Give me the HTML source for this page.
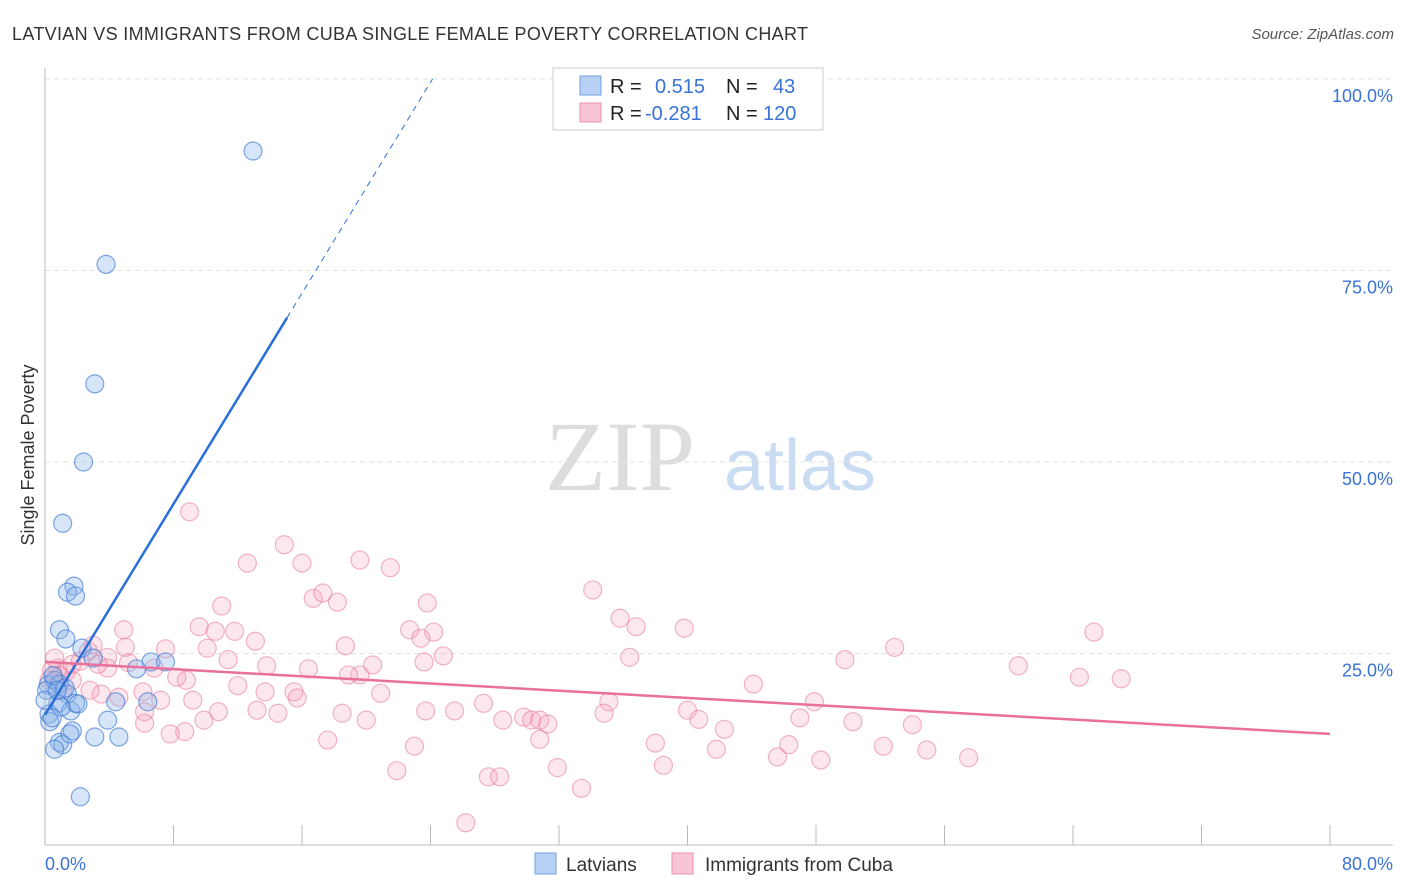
<!DOCTYPE html>
<html><head><meta charset="utf-8"><style>
body{margin:0;background:#fff;font-family:"Liberation Sans",sans-serif;}
svg{display:block}
</style></head><body>
<svg id="chart" width="1406" height="892">
<text x="12" y="40" font-size="18" fill="#333" textLength="796">LATVIAN VS IMMIGRANTS FROM CUBA SINGLE FEMALE POVERTY CORRELATION CHART</text>
<text x="1394" y="39" font-size="15" fill="#555" font-style="italic" text-anchor="end">Source: ZipAtlas.com</text>
<text x="620" y="490" font-size="100" fill="#ddd" font-family="Liberation Serif,serif" text-anchor="middle">ZIP</text>
<text x="800" y="490" font-size="72" fill="#c9dcf2" text-anchor="middle">atlas</text>
<text transform="translate(34,455) rotate(-90)" font-size="18" fill="#333" text-anchor="middle">Single Female Poverty</text>
<g id="grid"></g><g id="pts"></g><g id="lines"></g>
<g>
<rect x="553" y="68" width="270" height="62" fill="#fff" stroke="#ccc"/>
<rect x="580" y="76" width="21" height="19" fill="#b7d0f3" stroke="#6fa0e0"/>
<rect x="580" y="103" width="21" height="19" fill="#f8c5d4" stroke="#ec93ae"/>
<text x="610" y="93" font-size="20" fill="#222">R = <tspan fill="#3a72d6" x="655">0.515</tspan><tspan x="726" fill="#222">N =</tspan><tspan x="773" fill="#3a72d6">43</tspan></text>
<text x="610" y="120" font-size="20" fill="#222">R = <tspan fill="#3a72d6" x="645">-0.281</tspan><tspan x="726" fill="#222">N =</tspan><tspan x="763" fill="#3a72d6">120</tspan></text>
</g>
<g>
<rect x="535" y="853" width="21" height="21" fill="#b7d0f3" stroke="#6fa0e0"/>
<text x="566" y="871" font-size="19" fill="#333">Latvians</text>
<rect x="672" y="853" width="21" height="21" fill="#f8c5d4" stroke="#ec93ae"/>
<text x="705" y="871" font-size="19" fill="#333">Immigrants from Cuba</text>
</g>
</svg>
<script>
const blueX=[12.95,3.8,3.1,2.4,1.1,1.8,1.4,1.9,0.9,1.3,2.3,3.0,5.7,6.6,7.5,0.2,0.6,0.9,1.4,0.8,1.6,1.9,4.4,6.4,0.25,0.3,3.9,3.1,4.6,1.7,0.9,1.1,0.6,2.2,0.1,1.0,0,0.5,2.05,1.55,0.45,1.25,0.75];
const blueY=[90.6,75.8,60.2,50.0,42.0,33.8,33.0,32.5,28.1,26.9,25.7,24.4,23.0,23.9,23.9,20.9,21.5,21.0,19.7,18.5,17.5,18.5,18.7,18.7,17.1,16.1,16.3,14.1,14.1,14.9,13.4,13.1,12.5,6.3,20.2,18.0,18.9,22.1,18.4,14.5,16.6,20.5,20.2];
const pinkX=[9.0,14.9,12.6,16.0,19.6,21.5,34.1,11.0,16.7,17.3,18.2,23.8,35.8,36.8,39.8,65.3,9.6,10.6,11.8,13.1,18.7,22.7,24.2,23.4,24.8,23.6,36.4,49.8,52.9,60.6,64.4,67.0,4.9,5.0,3.0,2.7,7.5,3.9,5.2,10.1,11.4,13.8,16.4,20.4,19.6,18.9,8.8,8.2,6.8,12.0,13.7,15.5,15.7,20.9,44.1,47.9,40.0,35.1,27.3,25.5,23.7,3.5,4.6,6.1,7.2,9.2,10.8,9.9,6.2,13.2,14.5,18.5,20.0,28.5,29.8,30.3,30.8,31.3,34.8,40.7,42.3,47.0,50.3,54.0,6.2,8.7,7.8,17.6,23.0,30.8,38.0,41.8,46.3,52.2,54.9,45.6,48.3,57.5,38.5,21.9,31.9,27.6,28.3,33.4,26.2,0.8,1.3,0.4,1.7,0.9,2.2,0.25,2.8,3.9,1.7,1.1,0.6,3.3];
const pinkY=[43.5,39.2,36.8,36.8,37.2,36.2,33.3,31.2,32.2,32.9,31.7,31.6,29.6,28.5,28.3,27.8,28.5,27.9,27.9,26.6,26.0,28.1,27.8,27.0,24.7,23.9,24.5,24.2,25.8,23.4,21.9,21.7,28.1,25.8,26.1,25.3,25.6,24.5,23.8,25.7,24.2,23.4,23.0,23.5,22.2,22.2,21.5,21.9,23.1,20.8,20.0,20.0,19.2,19.8,21.0,18.7,17.6,18.7,18.5,17.5,17.5,19.7,19.3,20.0,18.9,18.9,17.4,16.3,17.4,17.6,17.2,17.2,16.3,16.3,16.7,16.3,16.3,15.8,17.2,16.4,15.1,16.6,16.1,15.7,15.9,14.8,14.5,13.7,12.9,13.8,13.3,12.5,13.1,12.9,12.4,11.5,11.1,11.4,10.4,9.7,10.1,8.9,8.9,7.4,2.9,23.1,22.6,22.8,23.6,22.1,24.0,21.5,20.2,23.1,21.5,20.2,24.4,23.6];
const yTicks=[25,50,75,100];
const yTickLabels=["25.0%","50.0%","75.0%","100.0%"];
const blueTrend=[17.0,3.44];
const pinkTrend=[23.9,-0.1175];
const NS="http://www.w3.org/2000/svg";
const sx=v=>45+v*16.0625, sy=v=>845-v*7.66;
function mk(tag,attrs,parent){const e=document.createElementNS(NS,tag);for(const k in attrs)e.setAttribute(k,attrs[k]);parent.appendChild(e);return e;}
const grid=document.getElementById('grid'),pts=document.getElementById('pts'),lines=document.getElementById('lines');
yTicks.forEach((t,i)=>{
 const l=mk('line',{x1:45,x2:1393,y1:sy(t),y2:sy(t),stroke:'#e2e2e2','stroke-dasharray':'5,4'},grid);
 
 
 const tx=mk('text',{x:1393,y:sy(t)+23,'font-size':18,fill:'#3a72d6','text-anchor':'end'},grid);
 tx.textContent=yTickLabels[i];
 
 
});
const ax=mk('line',{x1:45,x2:45,y1:68,y2:845,stroke:'#bbb'},grid);


const bx=mk('line',{x1:45,x2:1393,y1:845,y2:845,stroke:'#bbb'},grid);


for(let i=1;i<=10;i++){const t=mk('line',{x1:sx(i*8),x2:sx(i*8),y1:825,y2:845,stroke:'#bbb'},grid);
 
 }
[["0.0%",45,'start'],["80.0%",1393,'end']].forEach(a=>{const t=mk('text',{x:a[1],y:870,'font-size':18,fill:'#3a72d6','text-anchor':a[2]},grid);t.textContent=a[0];
 
 });
pinkX.forEach((x,i)=>{const c=mk('circle',{cx:sx(x),cy:sy(pinkY[i]),r:9,fill:'rgba(245,160,185,0.25)',stroke:'rgba(232,120,155,0.55)','stroke-width':1.2},pts);
 
 });
blueX.forEach((x,i)=>{const c=mk('circle',{cx:sx(x),cy:sy(blueY[i]),r:9,fill:'rgba(140,180,235,0.35)',stroke:'rgba(60,120,210,0.65)','stroke-width':1.2},pts);
 
 });
const bEnd=15.07, bTop=(100-blueTrend[0])/blueTrend[1];
const b1=mk('line',{x1:sx(0),y1:sy(blueTrend[0]),x2:sx(bEnd),y2:sy(blueTrend[0]+blueTrend[1]*bEnd),stroke:'#2a6fd8','stroke-width':2.5},lines);


const b2=mk('line',{x1:sx(bEnd),y1:sy(blueTrend[0]+blueTrend[1]*bEnd),x2:sx(bTop),y2:sy(100),stroke:'#2a6fd8','stroke-width':1,'stroke-dasharray':'6,5'},lines);


const p1=mk('line',{x1:sx(0),y1:sy(pinkTrend[0]),x2:sx(80),y2:sy(pinkTrend[0]+pinkTrend[1]*80),stroke:'#e8709a','stroke-width':2.5},lines);


</script>
</body></html>
